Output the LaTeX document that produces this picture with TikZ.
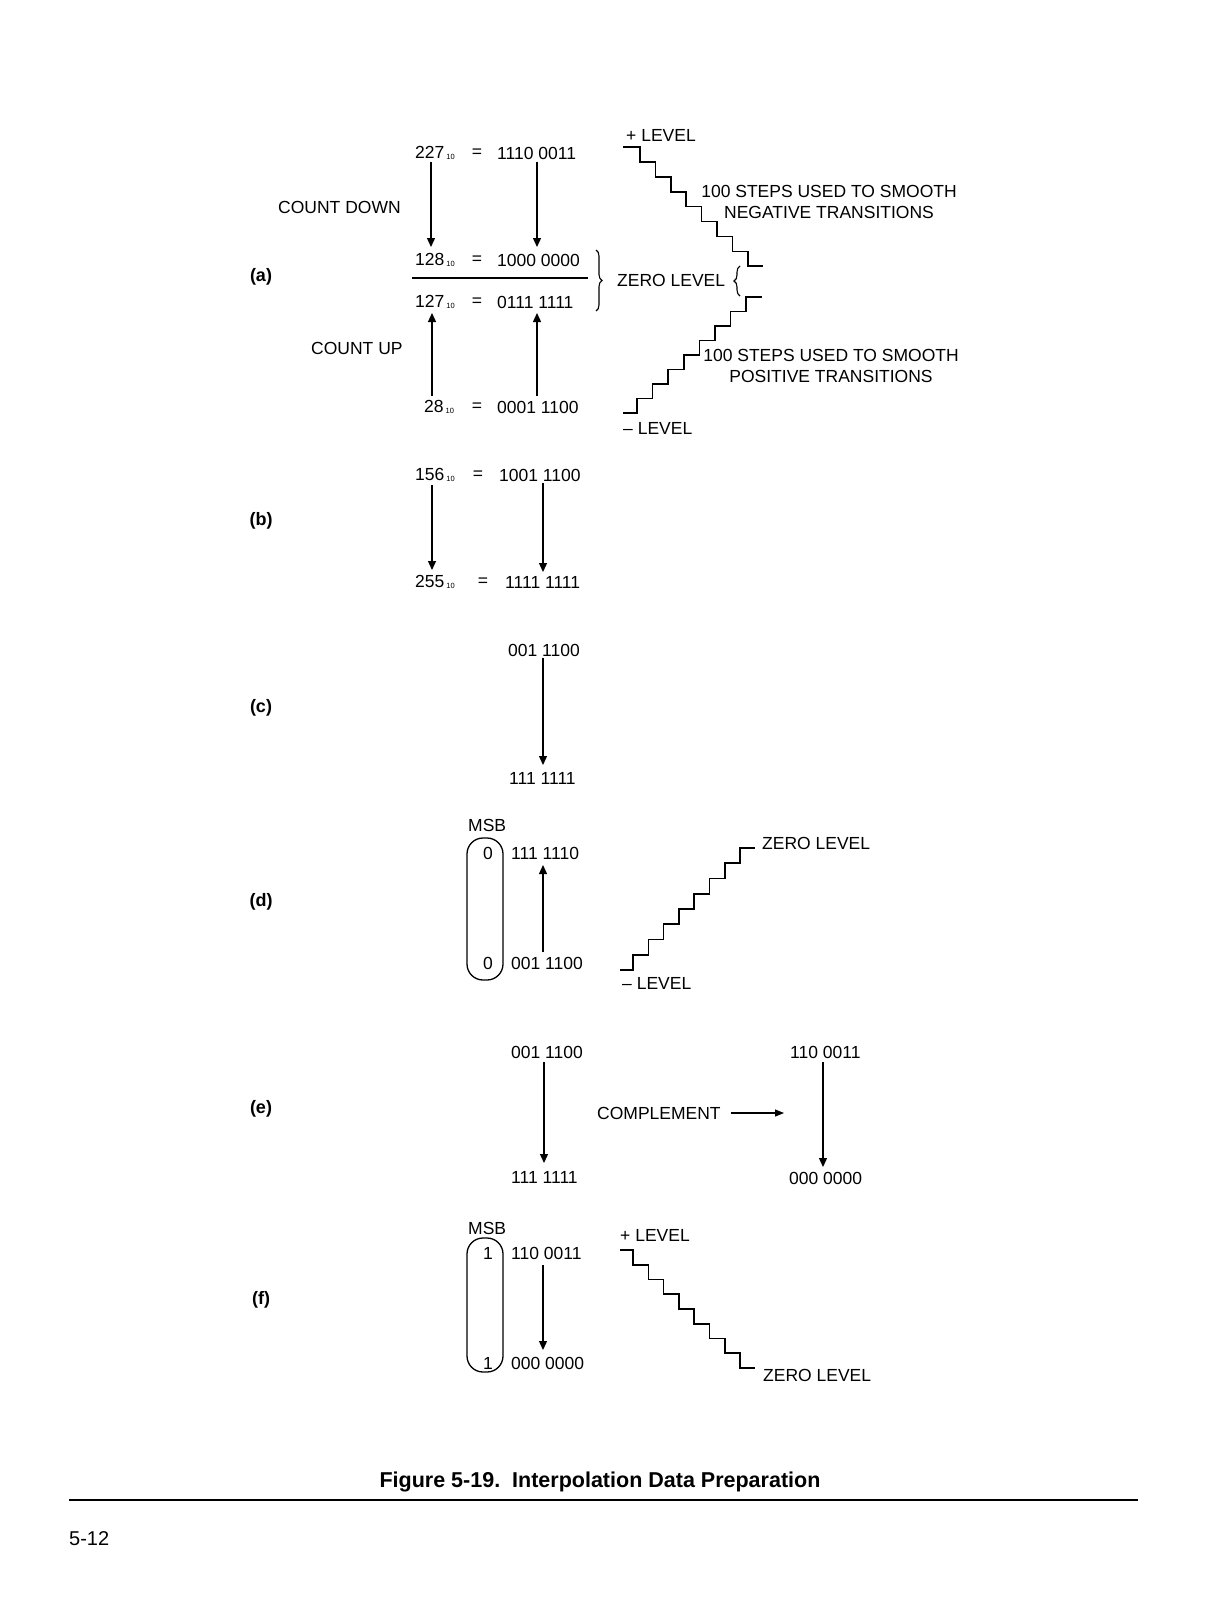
\documentclass[tikz,border=0pt]{standalone}
\usepackage{fontspec}
\usepackage{graphicx}
\setmainfont{Liberation Sans}
\usetikzlibrary{arrows.meta,decorations.pathreplacing}
\newcommand{\dec}[1]{#1\hspace{2pt}\raisebox{-1pt}{\fontsize{7.5}{8}\selectfont 10}}
\tikzset{
  txt/.style={inner sep=0pt, anchor=west, font=\fontsize{17.5}{21}\selectfont},
  ctxt/.style={inner sep=0pt, font=\fontsize{17.5}{21}\selectfont},
  lbl/.style={inner sep=0pt, font=\fontsize{18}{21}\selectfont\bfseries},
  arr/.style={line width=1.3pt, -{Triangle[length=9pt,width=8pt]}},
  stair/.style={line width=1.6pt},
  msbbox/.style={line width=1.3pt, rounded corners=16pt},
  brc/.style={decorate, decoration={brace, amplitude=6pt}, line width=1.1pt},
}
\begin{document}
\begin{tikzpicture}[x=1pt,y=-1pt]
\useasboundingbox (0,0) rectangle (1220,1600);

% ---------------- (a) ----------------
\node[lbl] (la) at (261,277) {(a)};
\node[txt] (a1d) at (415,153) {\dec{227}};
\node[ctxt] (a1e) at (477,153) {=};
\node[txt] (a1b) at (497,153) {1110 0011};
\node[txt] (cd) at (278,207) {COUNT DOWN};
\node[txt] (a2d) at (415,260) {\dec{128}};
\node[ctxt] (a2e) at (477,260) {=};
\node[txt] (a2b) at (497,260) {1000 0000};
\draw[line width=1.2pt] (412,278) -- (588,278);
\node[txt] (a3d) at (415,302) {\dec{127}};
\node[ctxt] (a3e) at (477,302) {=};
\node[txt] (a3b) at (497,302) {0111 1111};
\node[txt] (cu) at (311,348) {COUNT UP};
\node[txt] (a4d) at (424,407) {\dec{28}};
\node[ctxt] (a4e) at (477,407) {=};
\node[txt] (a4b) at (497,407) {0001 1100};

\coordinate (d1s) at (431,162); \coordinate (d1e) at (431,247);
\coordinate (d2s) at (537,162); \coordinate (d2e) at (537,247);
\coordinate (u1s) at (432,396); \coordinate (u1e) at (432,313);
\coordinate (u2s) at (537,396); \coordinate (u2e) at (537,313);
\draw[arr] (d1s) -- (d1e);
\draw[arr] (d2s) -- (d2e);
\draw[arr] (u1s) -- (u1e);
\draw[arr] (u2s) -- (u2e);

\draw[brc] (596,250) -- (596,311);
\node[txt] (zl) at (617,280) {ZERO LEVEL};
\draw[brc] (740,296) -- (740,266);

\node[txt] (pl) at (626,135) {+ LEVEL};
\draw[stair] (623,147) -- (640,147)
  \foreach \k in {1,...,8} { -- ++(0,14.9) -- ++(15.4,0) };
\node[ctxt, align=center] (neg) at (829,202) {100 STEPS USED TO SMOOTH\\NEGATIVE TRANSITIONS};
\draw[stair] (623,413) -- (637,413)
  \foreach \k in {1,...,8} { -- ++(0,-14.5) -- ++(15.6,0) };
\node[ctxt, align=center] (pos) at (831,366) {100 STEPS USED TO SMOOTH\\POSITIVE TRANSITIONS};
\node[txt] (ml) at (623,428) {\textendash\ LEVEL};

% ---------------- (b) ----------------
\node[lbl] (lb) at (261,521) {(b)};
\node[txt] (b1d) at (415,475) {\dec{156}};
\node[ctxt] (b1e) at (478,475) {=};
\node[txt] (b1b) at (499,475) {1001 1100};
\node[txt] (b2d) at (415,582) {\dec{255}};
\node[ctxt] (b2e) at (483,582) {=};
\node[txt] (b2b) at (505,582) {1111 1111};
\coordinate (b1s) at (432,485); \coordinate (b1t) at (432,570);
\coordinate (b2s) at (543,483); \coordinate (b2t) at (543,572);
\draw[arr] (b1s) -- (b1t);
\draw[arr] (b2s) -- (b2t);

% ---------------- (c) ----------------
\node[lbl] (lc) at (261,708) {(c)};
\node[txt] (c1) at (508,650) {001 1100};
\node[txt] (c2) at (509,778) {111 1111};
\coordinate (cs) at (543,658); \coordinate (ct) at (543,765);
\draw[arr] (cs) -- (ct);

% ---------------- (d) ----------------
\node[lbl] (ld) at (261,902) {(d)};
\node[txt] (dmsb) at (468,825) {MSB};
\draw[msbbox] (467,838) rectangle (503,980);
\node[ctxt] (d0a) at (488,853) {0};
\node[txt] (d1) at (511,853) {111 1110};
\node[ctxt] (d0b) at (488,963) {0};
\node[txt] (d2) at (511,963) {001 1100};
\coordinate (ds) at (543,952); \coordinate (dt) at (543,865);
\draw[arr] (ds) -- (dt);
\draw[stair] (620,970) -- (633,970)
  \foreach \k in {1,...,8} { -- ++(0,-15.25) -- ++(15.3,0) };
\node[txt] (dzl) at (762,843) {ZERO LEVEL};
\node[txt] (dml) at (622,983) {\textendash\ LEVEL};

% ---------------- (e) ----------------
\node[lbl] (le) at (261,1109) {(e)};
\node[txt] (e1) at (511,1052) {001 1100};
\node[txt] (e2) at (511,1177) {111 1111};
\coordinate (es) at (544,1062); \coordinate (et) at (544,1163);
\draw[arr] (es) -- (et);
\node[txt] (comp) at (597,1113) {COMPLEMENT};
\coordinate (compe) at (784,1113);
\draw[line width=1.1pt, -{Triangle[length=9pt,width=7pt]}] ([xshift=10pt]comp.east) -- (compe);
\node[txt] (e3) at (790,1052) {110 0011};
\node[txt] (e4) at (789,1178) {000 0000};
\coordinate (e3s) at (823,1062); \coordinate (e3t) at (823,1167);
\draw[arr] (e3s) -- (e3t);

% ---------------- (f) ----------------
\node[lbl] (lf) at (261,1300) {(f)};
\node[txt] (fmsb) at (468,1228) {MSB};
\draw[msbbox] (467,1238) rectangle (503,1372);
\node[ctxt] (f1a) at (488,1253) {1};
\node[txt] (f1) at (511,1253) {110 0011};
\node[ctxt] (f1b) at (488,1363) {1};
\node[txt] (f2) at (511,1363) {000 0000};
\coordinate (fs) at (543,1265); \coordinate (ft) at (543,1350);
\draw[arr] (fs) -- (ft);
\node[txt] (fpl) at (620,1235) {+ LEVEL};
\draw[stair] (620,1250) -- (633,1250)
  \foreach \k in {1,...,8} { -- ++(0,14.75) -- ++(15.3,0) };
\node[txt] (fzl) at (763,1375) {ZERO LEVEL};

% ---------------- caption ----------------
\node[inner sep=0pt] (cap) at (600,1482) {\fontsize{21.5}{24}\selectfont\bfseries Figure 5-19.\ \ Interpolation Data Preparation};
\draw[line width=1.6pt] (69,1500) -- (1138,1500);
\node[inner sep=0pt, anchor=west] (pg) at (69,1539) {\fontsize{20}{24}\selectfont 5-12};
\end{tikzpicture}
\end{document}
